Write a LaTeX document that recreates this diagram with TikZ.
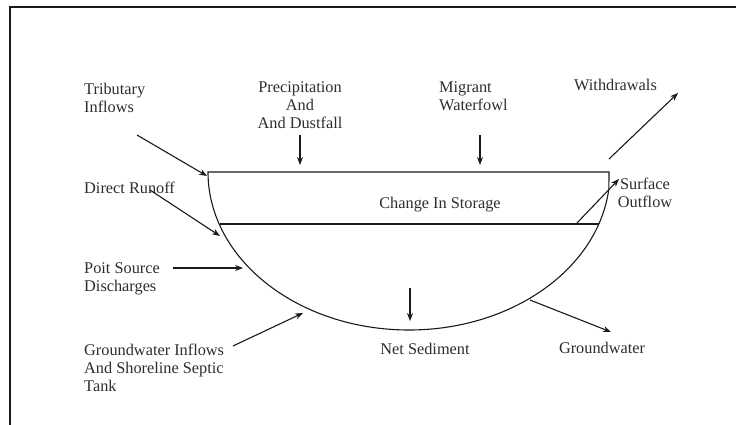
\documentclass[tikz,border=0pt]{standalone}
\usepackage{fontspec}
\setmainfont{Liberation Serif}
\usetikzlibrary{arrows.meta}
\definecolor{ink}{HTML}{2E2E2E}
\definecolor{lin}{HTML}{1A1A1A}
\begin{document}
\begin{tikzpicture}[x=1pt,y=-1pt,
  lbl/.style={inner sep=0pt, text=ink, font=\fontsize{16.3}{18}\selectfont},
  flow/.style={draw=lin, line width=1.1pt, -{Stealth[length=8pt,width=6pt]}},
  bowl/.style={draw=lin, line width=1.1pt},
  frameline/.style={draw=lin, line width=2pt}]
\useasboundingbox (0,0) rectangle (736,425);
\fill[white] (0,0) rectangle (736,425);
% frame
\coordinate (fbl) at (10,425);
\coordinate (ftl) at (10,7);
\coordinate (ftr) at (736,7);
\draw[frameline] (fbl) -- (ftl) -- (ftr);
% bowl
\coordinate (tl) at (208,172);
\coordinate (tr) at (609,172);
\draw[bowl] (tl) arc[start angle=180, end angle=6, x radius=201, y radius=158] -- (tr) -- cycle;
\coordinate (ll) at (219.5,224);
\coordinate (lr) at (599,224);
\draw[bowl] (ll) -- (lr);
% labels
\node[lbl, anchor=north west, align=left] (trib) at (84,83) {Tributary\\Inflows};
\node[lbl, anchor=north, align=center] (prec) at (300,82) {Precipitation\\And\\And Dustfall};
\node[lbl, anchor=north west, align=left] (migr) at (439,82) {Migrant\\Waterfowl};
\node[lbl, anchor=north west] (withd) at (574,79) {Withdrawals};
\node[lbl, anchor=north west] (runoff) at (84,182) {Direct Runoff};
\node[lbl] (store) at (440,205) {Change In Storage};
\node[lbl, anchor=north, align=center] (surf) at (645,178) {Surface\\Outflow};
\node[lbl, anchor=north west, align=left] (poit) at (84,263) {Poit Source\\Discharges};
\node[lbl, anchor=north west, align=left] (gwin) at (84,344) {Groundwater Inflows\\And Shoreline Septic\\Tank};
\node[lbl] (sed) at (425,349) {Net Sediment};
\node[lbl] (gwout) at (602,348) {Groundwater};
% arrow end points
\coordinate (a1s) at (137,135); \coordinate (a1e) at (207,176);
\coordinate (a2s) at (150,190); \coordinate (a2e) at (220,236);
\coordinate (a3s) at (300,135); \coordinate (a3e) at (300,165);
\coordinate (a4s) at (480,135); \coordinate (a4e) at (480,165);
\coordinate (a5s) at (609,159); \coordinate (a5e) at (678,93);
\coordinate (a6s) at (577,223); \coordinate (a6e) at (619,179);
\coordinate (a7s) at (173,268); \coordinate (a7e) at (243,268);
\coordinate (a8s) at (233,346); \coordinate (a8e) at (303,313);
\coordinate (a9s) at (410,288); \coordinate (a9e) at (410,321);
\coordinate (a10s) at (530,300); \coordinate (a10e) at (611,332);
\draw[flow] (a1s) -- (a1e);
\draw[flow] (a2s) -- (a2e);
\draw[flow] (a3s) -- (a3e);
\draw[flow] (a4s) -- (a4e);
\draw[flow] (a5s) -- (a5e);
\draw[flow] (a6s) -- (a6e);
\draw[flow] (a7s) -- (a7e);
\draw[flow] (a8s) -- (a8e);
\draw[flow] (a9s) -- (a9e);
\draw[flow] (a10s) -- (a10e);
\end{tikzpicture}
\end{document}
